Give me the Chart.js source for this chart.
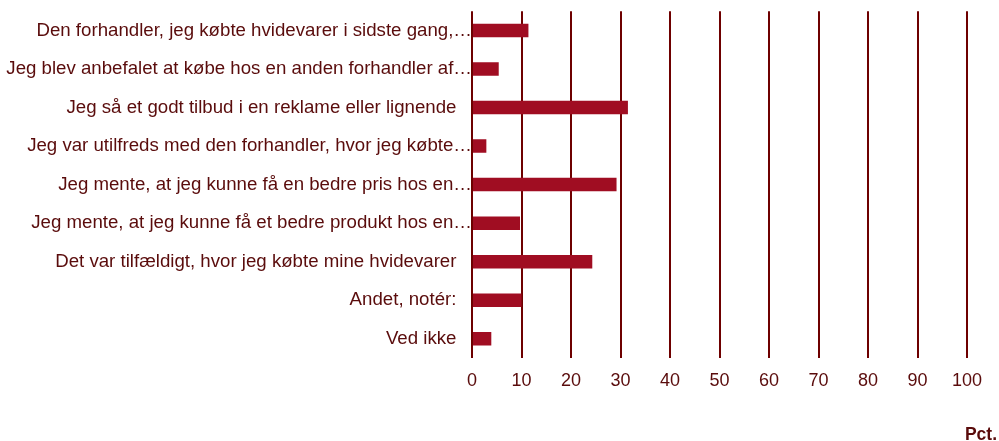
<!DOCTYPE html>
<html lang="da">
<head>
    <meta charset="UTF-8">
    <title>Hvidevarer</title>
    <script src="https://cdn.jsdelivr.net/npm/chart.js@4/dist/chart.umd.min.js"></script>
    <style>
        body {
            margin: 0;
            background-color: #fff;
        }
        .chart-container {
            position: relative;
            width: 999px;
            height: 441px;
        }
    </style>
</head>
<body>
    <div class="chart-container">
        <canvas id="reasons"></canvas>
    </div>

    <script>
        // Answer categories (trailing spaces line up the untruncated ones with the "…" ones)
        const categories = [
            'Den forhandler, jeg købte hvidevarer i sidste gang,…',
            'Jeg blev anbefalet at købe hos en anden forhandler af…',
            'Jeg så et godt tilbud i en reklame eller lignende   ',
            'Jeg var utilfreds med den forhandler, hvor jeg købte…',
            'Jeg mente, at jeg kunne få en bedre pris hos en…',
            'Jeg mente, at jeg kunne få et bedre produkt hos en…',
            'Det var tilfældigt, hvor jeg købte mine hvidevarer   ',
            'Andet, notér:   ',
            'Ved ikke   '
        ];
        const percentages = [11.4, 5.4, 31.5, 2.9, 29.2, 9.7, 24.3, 10.0, 3.9];
        const axisMin = 0;
        const axisMax = 100;
        const axisStep = 10;
        const unitLabel = 'Pct.';

        const fontFamily = '"Liberation Sans", Arial, sans-serif';
        const textColor = '#5a0c0c';
        const gridColor = '#6e0000';
        const barColor = '#a00d22';

        // draws the unit label in the bottom right corner
        const unitLabelPlugin = {
            id: 'unitLabel',
            afterDraw(chart) {
                const ctx = chart.ctx;
                ctx.save();
                ctx.font = 'bold 17.5px ' + fontFamily;
                ctx.fillStyle = textColor;
                ctx.textAlign = 'right';
                ctx.textBaseline = 'alphabetic';
                ctx.fillText(unitLabel, chart.width - 2, chart.height - 1.5);
                ctx.restore();
            }
        };

        const ctx = document.getElementById('reasons').getContext('2d');
        new Chart(ctx, {
            type: 'bar',
            data: {
                labels: categories,
                datasets: [{
                    data: percentages,
                    backgroundColor: barColor,
                    borderWidth: 0,
                    barPercentage: 0.35,
                    categoryPercentage: 1
                }]
            },
            plugins: [unitLabelPlugin],
            options: {
                indexAxis: 'y',
                responsive: true,
                maintainAspectRatio: false,
                animation: false,
                layout: {
                    padding: { top: 11, right: 32, left: 0, bottom: 0 }
                },
                plugins: {
                    legend: { display: false },
                    tooltip: { enabled: false }
                },
                scales: {
                    x: {
                        min: axisMin,
                        max: axisMax,
                        ticks: {
                            stepSize: axisStep,
                            color: textColor,
                            padding: 12,
                            font: { family: fontFamily, size: 18 }
                        },
                        grid: {
                            color: gridColor,
                            lineWidth: 2,
                            drawTicks: false
                        },
                        border: { display: false },
                        afterFit: scale => { scale.height = 83; }
                    },
                    y: {
                        ticks: {
                            color: textColor,
                            padding: 0,
                            autoSkip: false,
                            font: { family: fontFamily, size: 18.67 }
                        },
                        grid: { display: false, drawTicks: false },
                        border: { display: false },
                        afterFit: scale => { scale.width = 472; }
                    }
                }
            }
        });
    </script>
</body>
</html>
